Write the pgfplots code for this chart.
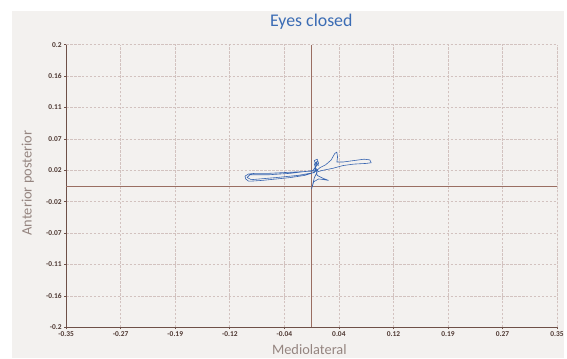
\documentclass[border=0pt]{standalone}
\usepackage{pgfplots}
\pgfplotsset{compat=1.18}
\usepackage{fontspec}
\setmainfont{Carlito}
\definecolor{panel}{HTML}{F3F1EF}
\definecolor{gridc}{HTML}{D2C2BF}
\definecolor{axc}{HTML}{6E5048}
\definecolor{crossc}{HTML}{9A6E62}
\definecolor{tickc}{HTML}{4E3832}
\definecolor{labc}{HTML}{958580}
\definecolor{titc}{HTML}{3B6CB4}
\definecolor{trajc}{HTML}{3563B0}
\begin{document}
\begin{tikzpicture}[x=1bp,y=1bp]
\fill[white] (0,0) rectangle (567,360);
\fill[panel] (12,0) rectangle (567,349);
\begin{axis}[
  at={(66.5bp,31bp)}, anchor=south west,
  scale only axis, width=493.5bp, height=284bp,
  xmin=-0.35, xmax=0.35, ymin=-0.2, ymax=0.2,
  axis background/.style={fill=panel},
  xtick={-0.35,-0.27222,-0.19444,-0.11667,-0.03889,0.03889,0.11667,0.19444,0.27222,0.35},
  xticklabels={-0.35,-0.27,-0.19,-0.12,-0.04,0.04,0.12,0.19,0.27,0.35},
  ytick={-0.2,-0.15556,-0.11111,-0.06667,-0.02222,0.02222,0.06667,0.11111,0.15556,0.2},
  yticklabels={-0.2,-0.16,-0.11,-0.07,-0.02,0.02,0.07,0.11,0.16,0.2},
  tick label style={font=\fontsize{7.5}{8.5}\selectfont\bfseries, text=tickc},
  xticklabel style={yshift=1bp},
  yticklabel style={xshift=1bp},
  tick style={axc, line width=0.6pt},
  tick align=outside, major tick length=2bp,
  xtick pos=bottom, ytick pos=left,
  grid=major,
  major grid style={gridc, dash pattern=on 2.5pt off 1.5pt, line width=0.6pt},
  axis line style={draw=none},
  clip=true,
]
\addplot[gridc, dash pattern=on 2.5pt off 1.5pt, line width=0.7pt] coordinates {(-0.35,0.2) (0.35,0.2) (0.35,-0.2)};
\addplot[axc, line width=0.9pt] coordinates {(-0.35,0.2) (-0.35,-0.2) (0.35,-0.2)};
\addplot[crossc, line width=0.9pt] coordinates {(0,-0.2) (0,0.2)};
\addplot[crossc, line width=0.9pt] coordinates {(-0.35,0) (0.35,0)};
\addplot[trajc, line width=0.6pt, line join=round] coordinates {
(0.006,0.030) (0.004,0.036) (0.008,0.038) (0.010,0.032) (0.005,0.026) (0.009,0.022)
(0.000,0.021) (-0.020,0.020) (-0.040,0.019) (-0.060,0.018) (-0.080,0.018) (-0.090,0.017)
(-0.095,0.014) (-0.094,0.010) (-0.090,0.007) (-0.085,0.007) (-0.070,0.008) (-0.050,0.010)
(-0.030,0.012) (-0.010,0.015) (0.000,0.018) (0.006,0.021)
(0.012,0.026) (0.020,0.030) (0.028,0.037) (0.033,0.046) (0.036,0.048) (0.037,0.041)
(0.036,0.034) (0.045,0.034) (0.060,0.036) (0.075,0.038) (0.083,0.037) (0.085,0.033)
(0.078,0.032) (0.060,0.031) (0.045,0.029) (0.030,0.025) (0.015,0.022) (0.008,0.020)
(0.004,0.012) (0.002,0.004) (0.000,-0.004) (0.003,0.006) (0.010,0.010) (0.018,0.009)
(0.024,0.008) (0.016,0.011) (0.008,0.015) (0.006,0.024) (0.004,0.031) (0.008,0.035)
(0.006,0.028) (0.002,0.022) (-0.030,0.018) (-0.060,0.016) (-0.088,0.016) (-0.092,0.012)
(-0.086,0.009) (-0.050,0.012) (-0.020,0.015) (0.004,0.019) (0.007,0.033) (0.010,0.029)
};
\end{axis}
\node[font=\fontsize{18}{20}\selectfont, text=titc] at (313,338) {Eyes closed};
\node[font=\fontsize{14.5}{16}\selectfont, text=labc] at (311,9) {Mediolateral};
\node[font=\fontsize{14.5}{16}\selectfont, text=labc, rotate=90] at (28,176) {Anterior posterior};
\end{tikzpicture}
\end{document}
